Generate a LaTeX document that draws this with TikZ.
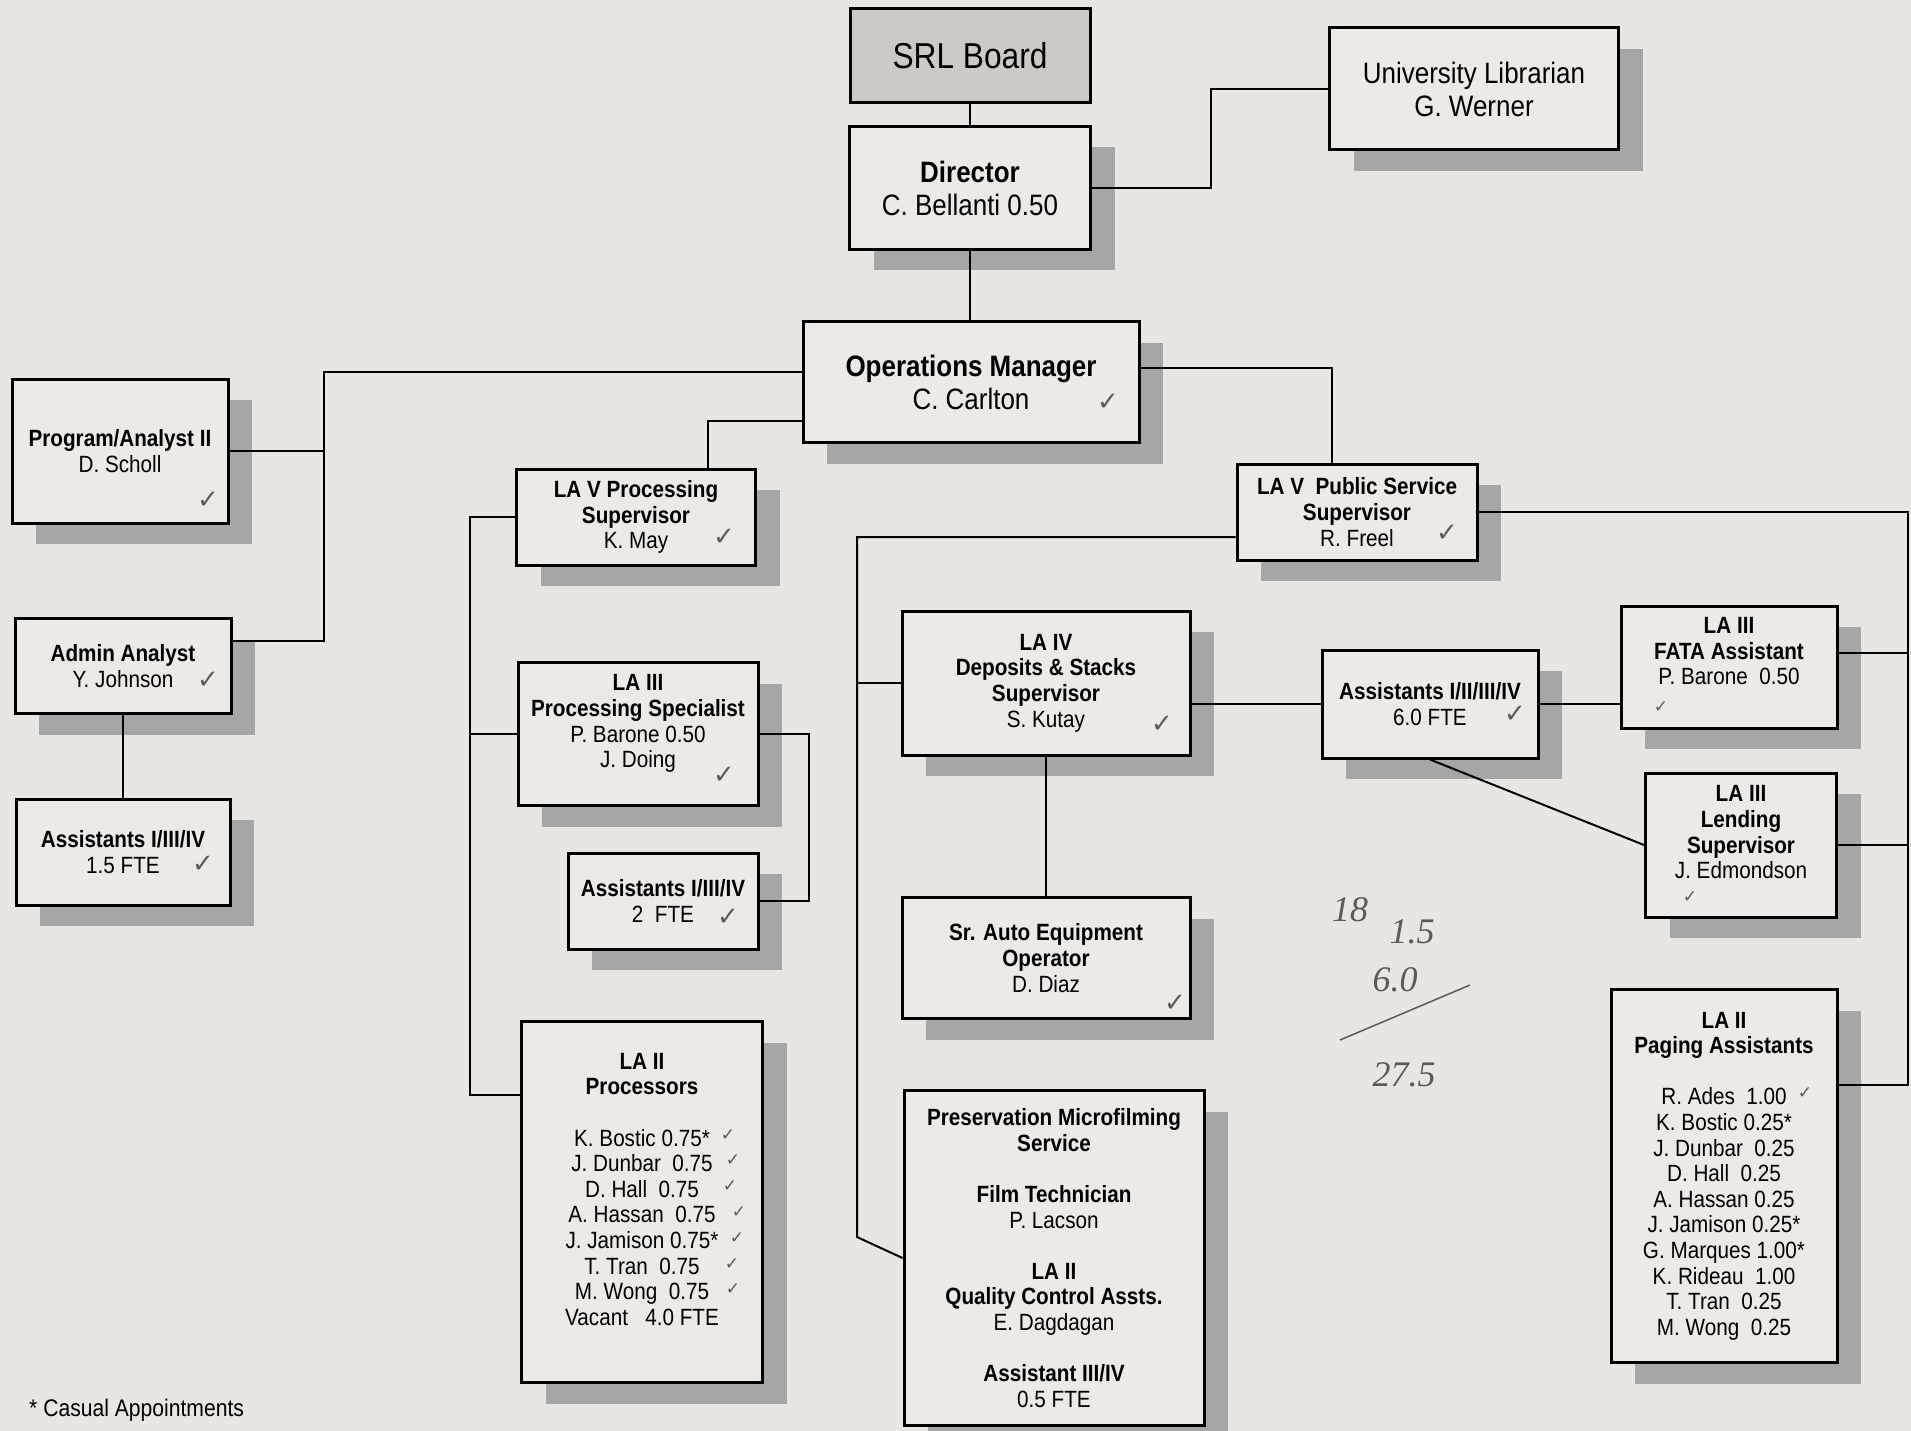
\documentclass[tikz,border=0pt]{standalone}
\usepackage{fontspec}
\setmainfont{Liberation Sans}[FakeStretch=0.88]
\newfontfamily\checkfont{DejaVu Sans}
\newfontfamily\handfont{Liberation Serif}
\usetikzlibrary{shadows}

\definecolor{paper}{RGB}{232,229,227}
\definecolor{boxfill}{RGB}{236,233,231}
\definecolor{shadowgray}{RGB}{166,166,166}
\definecolor{boardgray}{RGB}{204,201,199}
\definecolor{pencil}{RGB}{90,90,90}

\tikzset{
    box/.style={draw, line width=3pt, fill=boxfill, align=center, inner sep=0pt,
        font=\fontsize{23.5}{25.6}\selectfont},
    post/.style={box, drop shadow={shadow xshift=24pt, shadow yshift=-21pt, fill=shadowgray, opacity=1}},
    topfont/.style={font=\fontsize{29.5}{33}\selectfont},
    conn/.style={line width=2pt},
    tick/.style={text=pencil, inner sep=0pt, font=\checkfont\fontsize{26}{26}\selectfont},
    smalltick/.style={tick, font=\checkfont\fontsize{17}{17}\selectfont},
    hand/.style={text=pencil, inner sep=0pt, font=\handfont\itshape\fontsize{36}{36}\selectfont}
}

\begin{document}
\begin{tikzpicture}[x=1pt, y=-1pt]
    \useasboundingbox (0,0) rectangle (1911,1431);
    \fill [paper] (0,0) rectangle (1911,1431);

    %%  Top of the chart
    % Board, Director, Librarian, Operations Manager
    \node [box, minimum width=240pt, minimum height=94pt, fill=boardgray, font=\fontsize{36}{40}\selectfont] (board) at (970,56) {SRL Board};
    \node [post, topfont, minimum width=241pt, minimum height=123pt] (director) at (970,188) {\textbf{Director}\\C. Bellanti 0.50};
    \node [post, topfont, minimum width=289pt, minimum height=122pt] (librarian) at (1474,89) {University Librarian\\G. Werner};
    \node [post, topfont, minimum width=336pt, minimum height=121pt] (opsmgr) at (971,382) {\textbf{Operations Manager}\\C. Carlton};

    %%  Administration
    \node [post, minimum width=216pt, minimum height=144pt] (proganalyst) at (120,451) {\textbf{Program/Analyst II}\\D. Scholl};
    \node [post, minimum width=216pt, minimum height=95pt] (admin) at (123,666) {\textbf{Admin Analyst}\\Y. Johnson};
    \node [post, minimum width=214pt, minimum height=106pt] (adminasst) at (123,852) {\textbf{Assistants I/III/IV}\\1.5 FTE};

    %%  Processing
    \node [post, minimum width=239pt, minimum height=96pt] (lavproc) at (636,517) {\textbf{LA V Processing}\\\textbf{Supervisor}\\K. May};
    \node [post, minimum width=240pt, minimum height=143pt] (procspec) at (638,734) {\textbf{LA III}\\\textbf{Processing Specialist}\\P. Barone 0.50\\J. Doing\\\mbox{}};
    \node [post, minimum width=190pt, minimum height=96pt] (procasst) at (663,901) {\textbf{Assistants I/III/IV}\\2~~FTE};
    \node [post, minimum width=241pt, minimum height=361pt] (processors) at (642,1202) {\textbf{LA II}\\\textbf{Processors}\\[25.6pt]K. Bostic 0.75*\\J. Dunbar~~0.75\\D. Hall~~0.75\\A. Hassan~~0.75\\J. Jamison 0.75*\\T. Tran~~0.75\\M. Wong~~0.75\\Vacant~~~4.0 FTE\\\mbox{}};

    %%  Public Service
    \node [post, minimum width=240pt, minimum height=96pt] (lavpub) at (1357,512) {\textbf{LA V~~Public Service}\\\textbf{Supervisor}\\R. Freel};
    \node [post, minimum width=288pt, minimum height=144pt] (deposits) at (1046,683) {\textbf{LA IV}\\\textbf{Deposits \& Stacks}\\\textbf{Supervisor}\\S. Kutay};
    \node [post, minimum width=288pt, minimum height=121pt] (srauto) at (1046,958) {\textbf{Sr. Auto Equipment}\\\textbf{Operator}\\D. Diaz};
    \node [post, minimum width=300pt, minimum height=335pt] (microfilm) at (1054,1258) {\textbf{Preservation Microfilming}\\\textbf{Service}\\[25.6pt]\textbf{Film Technician}\\P. Lacson\\[25.6pt]\textbf{LA II}\\\textbf{Quality Control Assts.}\\E. Dagdagan\\[25.6pt]\textbf{Assistant III/IV}\\0.5 FTE};
    \node [post, minimum width=216pt, minimum height=108pt] (pubasst) at (1430,704) {\textbf{Assistants I/II/III/IV}\\6.0 FTE};
    \node [post, minimum width=216pt, minimum height=122pt] (fata) at (1729,667) {\textbf{LA III}\\\textbf{FATA Assistant}\\P. Barone~~0.50\\[6pt]\mbox{}};
    \node [post, minimum width=191pt, minimum height=144pt] (lending) at (1741,845) {\textbf{LA III}\\\textbf{Lending}\\\textbf{Supervisor}\\J. Edmondson\\\mbox{}};
    \node [post, minimum width=226pt, minimum height=373pt] (paging) at (1724,1176) {\textbf{LA II}\\\textbf{Paging Assistants}\\[25.6pt]R. Ades~~1.00\\K. Bostic 0.25*\\J. Dunbar~~0.25\\D. Hall~~0.25\\A. Hassan 0.25\\J. Jamison 0.25*\\G. Marques 1.00*\\K. Rideau~~1.00\\T. Tran~~0.25\\M. Wong~~0.25};

    % Footnote
    \node [anchor=west, inner sep=0pt, font=\fontsize{24}{26}\selectfont] (casual) at (29,1410) {* Casual Appointments};

    %%  Connectors
    \coordinate (adminbus) at (324,372);
    \coordinate (procbus) at (470,517);
    \coordinate (pubbus) at (857,537);
    \coordinate (filmbend) at (857,1237);
    \coordinate (pagebus) at (1908,512);

    \draw [conn] (board) -- (director);
    \draw [conn] (director.east) -- ++(119,0) |- (librarian.west);
    \draw [conn] (director.south) -- (director.south |- opsmgr.north);
    % Ops Manager to administration
    \draw [conn] ([yshift=10pt]opsmgr.west) -| (adminbus) |- ([yshift=25pt]admin.east);
    \draw [conn] (proganalyst.east) -- (proganalyst.east -| adminbus);
    \draw [conn] (admin.south) -- (adminasst.north);
    % Ops Manager to processing
    \draw [conn] ([yshift=-38.5pt]opsmgr.west) -| ([xshift=72pt]lavproc.north);
    \draw [conn] (lavproc.west) -| (procbus) |- ([yshift=107.5pt]processors.west);
    \draw [conn] (procspec.west) -- (procspec.west -| procbus);
    \draw [conn] (procspec.east) -- ++(49,0) |- (procasst.east);
    % Ops Manager to public service
    \draw [conn] ([yshift=14pt]opsmgr.east) -| ([xshift=-25pt]lavpub.north);
    \draw [conn] ([yshift=-25pt]lavpub.west) -| (pubbus) -- (filmbend) -- (microfilm.west);
    \draw [conn] (deposits.west) -- (deposits.west -| pubbus);
    \draw [conn] (deposits.south) -- (srauto.north);
    \draw [conn] (pubasst.west) -- (pubasst.west -| deposits.east);
    \draw [conn] (pubasst.east) -- (pubasst.east -| fata.west);
    \draw [conn] (pubasst.south) -- (lending.west);
    \draw [conn] (lavpub.east) -| (pagebus) |- ([yshift=91pt]paging.east);
    \draw [conn] ([yshift=14pt]fata.east) -| (pagebus);
    \draw [conn] (lending.east) -- (lending.east -| pagebus);

    %%  Pencil marks
    \node [tick] (tickops) at (1108,402) {✓};
    \node [tick] (tickprog) at (208,500) {✓};
    \node [tick] (tickadmin) at (208,680) {✓};
    \node [tick] (tickadminasst) at (203,864) {✓};
    \node [tick] (ticklavproc) at (724,537) {✓};
    \node [tick] (tickprocspec) at (724,775) {✓};
    \node [tick] (tickprocasst) at (728,917) {✓};
    \node [tick] (ticklavpub) at (1447,533) {✓};
    \node [tick] (tickdeposits) at (1162,724) {✓};
    \node [tick] (tickpubasst) at (1515,714) {✓};
    \node [tick] (ticksrauto) at (1175,1003) {✓};
    \node [smalltick] (tickfata) at (1661,707) {✓};
    \node [smalltick] (ticklending) at (1690,897) {✓};
    \node [smalltick] (tickades) at (1805,1093) {✓};
    \node [smalltick] (tickbostic) at (728,1135) {✓};
    \node [smalltick] (tickdunbar) at (733,1160) {✓};
    \node [smalltick] (tickhall) at (730,1186) {✓};
    \node [smalltick] (tickhassan) at (739,1212) {✓};
    \node [smalltick] (tickjamison) at (737,1238) {✓};
    \node [smalltick] (ticktran) at (732,1264) {✓};
    \node [smalltick] (tickwong) at (733,1289) {✓};

    % Sum
    \node [hand] (sumfirst) at (1350,910) {18};
    \node [hand] (sumsecond) at (1412,932) {1.5};
    \node [hand] (sumthird) at (1395,980) {6.0};
    \draw [pencil, line width=1.5pt] (1340,1040) -- (1470,985);
    \node [hand] (sumtotal) at (1404,1075) {27.5};
\end{tikzpicture}
\end{document}
